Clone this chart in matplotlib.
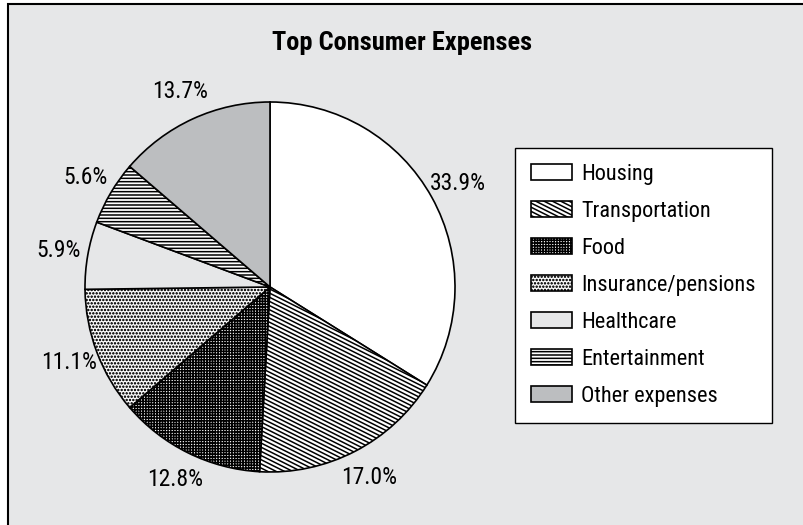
import numpy as np
import matplotlib
matplotlib.use('Agg')
import matplotlib.pyplot as plt
import matplotlib.hatch as mhatch
from matplotlib.path import Path
from matplotlib.patches import Rectangle
from matplotlib import font_manager


# data
categories = ['Housing', 'Transportation', 'Food', 'Insurance/pensions',
              'Healthcare', 'Entertainment', 'Other expenses']
shares = [33.9, 17.0, 12.8, 11.1, 5.9, 5.6, 13.7]

fills = ['white', 'white', 'white', 'white', '#e6e7e8', 'white', '#bcbec0']
hatches = [None, '\\\\', '++++++', '.....', None, '-----', None]


# shallow diagonal hatch (slope 1/2) in place of the 45 deg '\' one
class ShallowHatch(mhatch.HatchPatternBase):
    def __init__(self, hatch, density):
        n = 2 * int(hatch.count('\\') * density)
        self.offsets = np.arange(0, int(1.5 * n) + 1) / n if n else np.array([])
        self.num_vertices = 2 * len(self.offsets)

    def set_vertices_and_codes(self, vertices, codes):
        vertices[0::2, 0] = 0.0
        vertices[0::2, 1] = self.offsets
        vertices[1::2, 0] = 1.0
        vertices[1::2, 1] = self.offsets - 0.5
        codes[0::2] = Path.MOVETO
        codes[1::2] = Path.LINETO


mhatch._hatch_types[mhatch._hatch_types.index(mhatch.SouthEastHatch)] = ShallowHatch
mhatch.SmallFilledCircles.size = 0.13
plt.rcParams['hatch.linewidth'] = 1.1

# condensed font, whichever is installed
wanted = ['Roboto Condensed', 'Liberation Sans Narrow', 'Archivo Narrow', 'PT Sans Narrow',
          'Arial Narrow', 'Fira Sans Condensed', 'IBM Plex Sans Condensed',
          'Encode Sans Condensed', 'Asap Condensed', 'Barlow Semi Condensed',
          'Sofia Sans Condensed', 'Open Sans Condensed']
fonts = font_manager.fontManager.ttflist
names = {f.name for f in fonts}
bold_names = {f.name for f in fonts if f.weight in (700, 'bold')}
narrow = next((n for n in wanted if n in names), 'Liberation Sans')
narrow_bold = next((n for n in wanted if n in bold_names), narrow)

W, H = 804, 525
fig = plt.figure(figsize=(W / 100, H / 100), dpi=100)
fig.patch.set_facecolor('white')
fig.add_artist(Rectangle((8 / W, -0.1), 1.2, 1.1 - 4 / H, transform=fig.transFigure,
                         facecolor='#e6e7e8', edgecolor='black', lw=1.5, zorder=0))

# pie centre and radius in pixels
cx, cy, r = 270, 287, 185
ax = fig.add_axes([(cx - r) / W, (H - cy - r) / H, 2 * r / W, 2 * r / H])

wedges, texts = ax.pie(shares, labels=[f'{v:.1f}%' for v in shares],
                       colors=fills, startangle=90, counterclock=False,
                       labeldistance=1.16,
                       wedgeprops=dict(edgecolor='black', linewidth=1.2),
                       textprops=dict(family=narrow, fontsize=17))
for w, h in zip(wedges, hatches):
    if h:
        w.set_hatch(h)
for t in texts:
    t.set_ha('center')
ax.set_xlim(-1, 1)
ax.set_ylim(-1, 1)
ax.axis('off')

fig.text(402 / W, 1 - 43 / H, 'Top Consumer Expenses', ha='center', va='center',
         fontsize=19, weight='bold', family=narrow_bold)

leg = ax.legend(wedges, categories, loc='upper left',
                bbox_to_anchor=(515 / W, 1 - 148 / H), bbox_transform=fig.transFigure,
                borderaxespad=0, frameon=True, fancybox=False, edgecolor='black',
                framealpha=1, prop={'family': narrow, 'size': 16},
                handlelength=1.85, handleheight=0.7, handletextpad=0.4,
                labelspacing=0.72, borderpad=0.72)
leg.get_frame().set_linewidth(1.0)

fig.savefig('out.png', dpi=100, facecolor=fig.get_facecolor())
